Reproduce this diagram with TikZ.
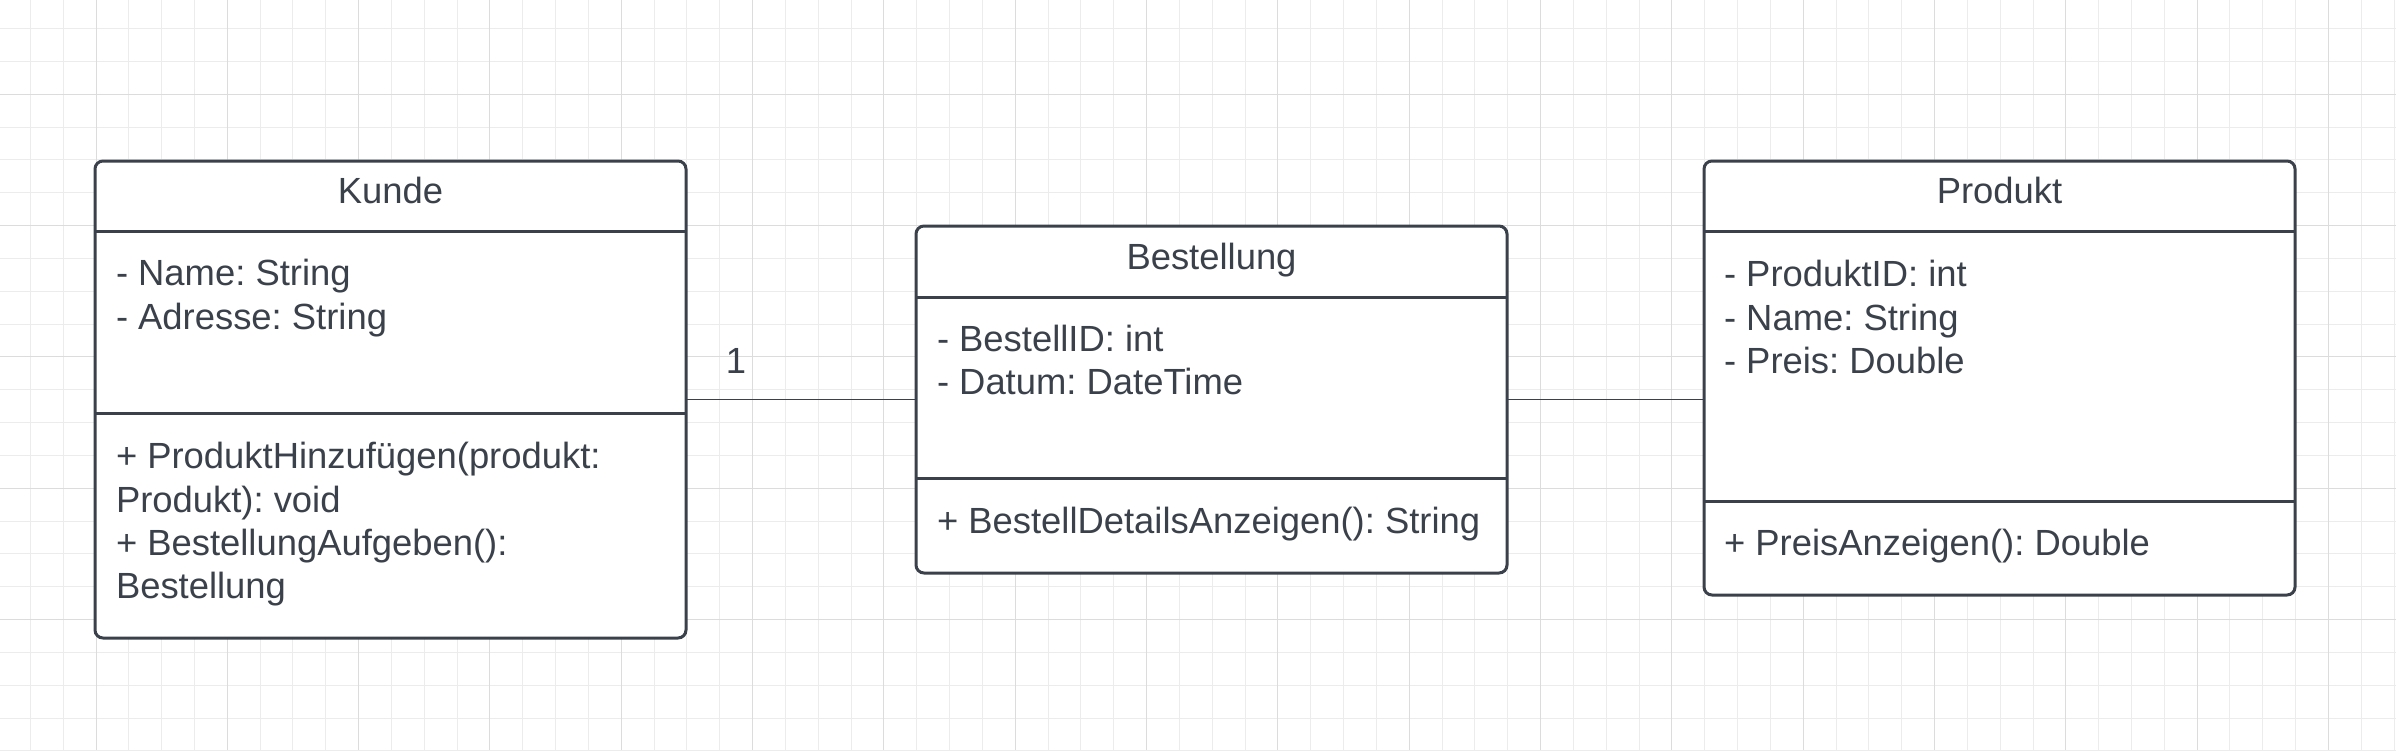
\documentclass[tikz,border=0pt]{standalone}
\usepackage{fontspec}
\setmainfont{Liberation Sans}
\frenchspacing
\definecolor{ink}{RGB}{58,65,74}
\definecolor{gridminor}{RGB}{236,236,236}
\definecolor{gridmajor}{RGB}{220,220,220}
\tikzset{
  classbox/.style={draw=ink, line width=1.5pt, rounded corners=4pt, fill=white, inner sep=0pt, outer sep=0pt, anchor=north west},
  sepline/.style={draw=ink, line width=1.5pt},
  conn/.style={draw=ink, line width=0.9pt},
  txt/.style={text=ink, font=\fontsize{18.2}{22}\selectfont, inner sep=0pt, outer sep=0pt},
  gminor/.style={draw=gridminor, line width=0.5pt},
  gmajor/.style={draw=gridmajor, line width=0.5pt}
}
\begin{document}
\begin{tikzpicture}[x=0.5pt, y=-0.5pt]
\useasboundingbox (0,0) rectangle (2396,750);
\fill[white] (0,0) rectangle (2396,750);
% grid
\begin{scope}
\clip (0,0) rectangle (2396,750);
\foreach \i in {-3,...,70} {\draw[gminor] ({96+\i*32.83},0) -- ({96+\i*32.83},750);}
\foreach \j in {-3,...,20} {\draw[gminor] (0,{94.3+\j*32.83}) -- (2396,{94.3+\j*32.83});}
\foreach \i in {0,4,...,68} {\draw[gmajor] ({96+\i*32.83},0) -- ({96+\i*32.83},750);}
\foreach \j in {0,4,...,16} {\draw[gmajor] (0,{94.3+\j*32.83}) -- (2396,{94.3+\j*32.83});}
\end{scope}
% boxes
\node[classbox, minimum width=295.5pt, minimum height=238.5pt] (kunde) at (95,161) {};
\node[classbox, minimum width=295.5pt, minimum height=173.5pt] (bestellung) at (916,226) {};
\node[classbox, minimum width=295.5pt, minimum height=217pt] (produkt) at (1704,161) {};
% separators
\draw[sepline] (kunde.west |- 0,231) -- (kunde.east |- 0,231);
\draw[sepline] (kunde.west |- 0,413) -- (kunde.east |- 0,413);
\draw[sepline] (bestellung.west |- 0,297) -- (bestellung.east |- 0,297);
\draw[sepline] (bestellung.west |- 0,478) -- (bestellung.east |- 0,478);
\draw[sepline] (produkt.west |- 0,231) -- (produkt.east |- 0,231);
\draw[sepline] (produkt.west |- 0,501) -- (produkt.east |- 0,501);
% connectors
\draw[conn] (kunde.east |- bestellung.west) -- (bestellung.west);
\draw[conn] (bestellung.east) -- (bestellung.east -| produkt.west);
\node[txt, anchor=base] (mult) at (736,373) {1};
% Kunde texts
\node[txt, anchor=base] (kt) at (390.5,203) {Kunde};
\node[txt, anchor=base west] (ka1) at (116,285) {- Name: String};
\node[txt, anchor=base west] (ka2) at (116,329) {- Adresse: String};
\node[txt, anchor=base west] (km1) at (116,468) {+ ProduktHinzufügen(produkt:};
\node[txt, anchor=base west] (km2) at (116,512) {Produkt): void};
\node[txt, anchor=base west] (km3) at (116,555) {+ BestellungAufgeben():};
\node[txt, anchor=base west] (km4) at (116,598) {Bestellung};
% Bestellung texts
\node[txt, anchor=base] (bt) at (1211.5,269) {Bestellung};
\node[txt, anchor=base west] (ba1) at (937,351) {- BestellID: int};
\node[txt, anchor=base west] (ba2) at (937,394) {- Datum: DateTime};
\node[txt, anchor=base west] (bm1) at (937,533) {+ BestellDetailsAnzeigen(): String};
% Produkt texts
\node[txt, anchor=base] (pt) at (1999.5,203) {Produkt};
\node[txt, anchor=base west] (pa1) at (1724,286) {- ProduktID: int};
\node[txt, anchor=base west] (pa2) at (1724,330) {- Name: String};
\node[txt, anchor=base west] (pa3) at (1724,373) {- Preis: Double};
\node[txt, anchor=base west] (pm1) at (1724,555) {+ PreisAnzeigen(): Double};
\end{tikzpicture}
\end{document}
